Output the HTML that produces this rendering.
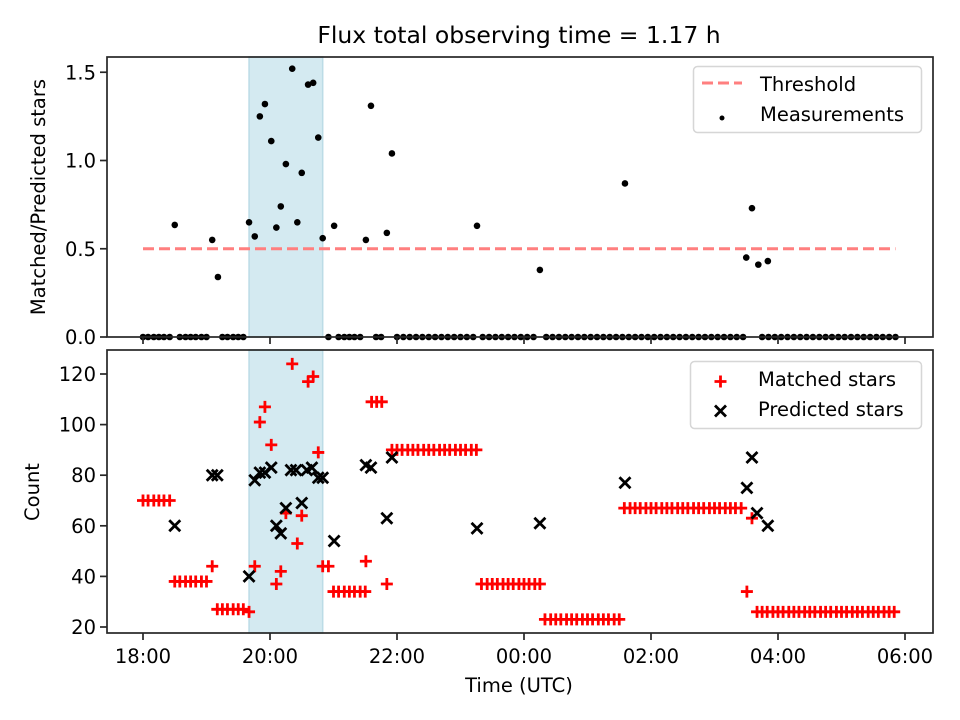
<!DOCTYPE html>
<html><head><meta charset="utf-8"><style>
body{margin:0;background:#fff;}
svg{display:block;font-family:"DejaVu Sans","Liberation Sans",sans-serif;}
</style></head><body>
<svg id="chart" width="960" height="720" viewBox="0 0 960 720" xmlns="http://www.w3.org/2000/svg"></svg>
<script>
// hours after 18:00 UTC
const spanStart = 1.67, spanEnd = 2.83;
const threshold = 0.5, thrStart = 0, thrEnd = 11.85;
const measTimes = [0.50,1.09,1.18,1.67,1.76,1.84,1.92,2.02,2.10,2.17,2.25,2.35,2.43,2.50,2.60,2.68,2.76,2.83,3.01,3.51,3.59,3.84,3.92,5.26,6.25,7.59,9.50,9.59,9.69,9.84];
const measVals = [0.635,0.55,0.34,0.65,0.57,1.25,1.32,1.11,0.62,0.74,0.98,1.52,0.65,0.93,1.43,1.44,1.13,0.56,0.63,0.55,1.31,0.59,1.04,0.63,0.38,0.87,0.45,0.73,0.41,0.43];
const zeroTimes = [0,0.08,0.17,0.25,0.33,0.42,0.58,0.67,0.75,0.83,0.92,1.0,1.25,1.33,1.42,1.5,1.58,2.92,3.08,3.17,3.25,3.33,3.42,3.67,3.75,4.0,4.1,4.2,4.3,4.4,4.5,4.6,4.7,4.8,4.9,5.0,5.1,5.2,5.35,5.45,5.55,5.65,5.75,5.85,5.95,6.05,6.15,6.35,6.45,6.55,6.65,6.75,6.85,6.95,7.05,7.15,7.25,7.35,7.45,7.55,7.65,7.75,7.85,7.95,8.05,8.15,8.25,8.35,8.45,8.55,8.65,8.75,8.85,8.95,9.05,9.15,9.25,9.35,9.45,9.75,9.85,9.95,10.05,10.15,10.25,10.35,10.45,10.55,10.65,10.75,10.85,10.95,11.05,11.15,11.25,11.35,11.45,11.55,11.65,11.75,11.85];
const matchedTimes = [0,0.08,0.17,0.25,0.33,0.42, 0.5,0.58,0.67,0.75,0.83,0.92,1.0, 1.09, 1.17,1.25,1.33,1.42,1.5,1.58,1.67,
 1.76,1.84,1.92,2.02,2.10,2.17,2.25,2.35,2.43,2.50,2.60,2.68,2.76,2.83,2.92,
 3.0,3.08,3.17,3.25,3.33,3.42,3.5, 3.51, 3.6,3.68,3.76, 3.84,
 3.92,4.0,4.08,4.17,4.25,4.33,4.42,4.5,4.58,4.67,4.75,4.83,4.92,5.0,5.08,5.17,5.25,
 5.33,5.42,5.5,5.58,5.67,5.75,5.83,5.92,6.0,6.08,6.17,6.25,
 6.33,6.42,6.5,6.58,6.67,6.75,6.83,6.92,7.0,7.08,7.17,7.25,7.33,7.42,7.5,
 7.58,7.67,7.75,7.83,7.92,8.0,8.08,8.17,8.25,8.33,8.42,8.5,8.58,8.67,8.75,8.83,8.92,9.0,9.08,9.17,9.25,9.33,9.42,
 9.51,9.59,
 9.67,9.75,9.83,9.92,10.0,10.08,10.17,10.25,10.33,10.42,10.5,10.58,10.67,10.75,10.83,10.92,11.0,11.08,11.17,11.25,11.33,11.42,11.5,11.58,11.67,11.75,11.83];
const matchedVals = [70,70,70,70,70,70, 38,38,38,38,38,38,38, 44, 27,27,27,27,27,27,26,
 44,101,107,92,37,42,65,124,53,64,117,119,89,44,44,
 34,34,34,34,34,34,34, 46, 109,109,109, 37,
 90,90,90,90,90,90,90,90,90,90,90,90,90,90,90,90,90,
 37,37,37,37,37,37,37,37,37,37,37,37,
 23,23,23,23,23,23,23,23,23,23,23,23,23,23,23,
 67,67,67,67,67,67,67,67,67,67,67,67,67,67,67,67,67,67,67,67,67,67,67,
 34,63,
 26,26,26,26,26,26,26,26,26,26,26,26,26,26,26,26,26,26,26,26,26,26,26,26,26,26,26];
const predTimes = [0.50,1.09,1.17,1.67,1.76,1.84,1.92,2.02,2.10,2.17,2.25,2.33,2.41,2.50,2.58,2.66,2.76,2.83,3.01,3.51,3.59,3.84,3.92,5.26,6.25,7.59,9.51,9.59,9.67,9.84];
const predVals = [60,80,80,40,78,81,81,83,60,57,67,82,82,69,82,83,79,79,54,84,83,63,87,59,61,77,75,87,65,60];
const xTickLabels = ["18:00","20:00","22:00","00:00","02:00","04:00","06:00"];
const xTickHours = [0,2,4,6,8,10,12];
const topTicks = [0,0.5,1.0,1.5];
const botTicks = [20,40,60,80,100,120];

const svg = document.getElementById('chart');
const NS = 'http://www.w3.org/2000/svg';
function mk(tag, attrs, parent){const e=document.createElementNS(NS,tag);for(const k in attrs)e.setAttribute(k,attrs[k]);(parent||svg).appendChild(e);return e;}
const L=107,R=933;
const X = h => 143 + h*63.5;
const T={top:57,bot:337}, B={top:350,bot:633};
const Yt = v => 337 - v*176.5;
const Yb = v => 627 - (v-20)*2.53;

for (const [p,name] of [[T,'top'],[B,'bottom']]) {
  const r = mk('rect',{x:X(spanStart),y:p.top,width:X(spanEnd)-X(spanStart),height:p.bot-p.top,fill:'#d4eaf1',stroke:'#bcdce6','stroke-width':1.5});
  
  
}
const th = mk('line',{x1:X(thrStart),x2:X(thrEnd),y1:Yt(threshold),y2:Yt(threshold),stroke:'#ff7f7f','stroke-width':3,'stroke-dasharray':'11,5'});


const allT = measTimes.concat(zeroTimes), allV = measVals.concat(zeroTimes.map(()=>0));
for (let i=0;i<allT.length;i++){
  const c = mk('circle',{cx:X(allT[i]),cy:Yt(allV[i]),r:3.3,fill:'#000'});
  
  
}
for (let i=0;i<matchedTimes.length;i++){
  const x=X(matchedTimes[i]), y=Yb(matchedVals[i]);
  const g = mk('path',{d:`M${x-6},${y}H${x+6}M${x},${y-6}V${y+6}`,stroke:'#ff0000','stroke-width':2.8});
  
  
}
for (let i=0;i<predTimes.length;i++){
  const x=X(predTimes[i]), y=Yb(predVals[i]);
  const g = mk('path',{d:`M${x-5.5},${y-5.5}L${x+5.5},${y+5.5}M${x-5.5},${y+5.5}L${x+5.5},${y-5.5}`,stroke:'#000','stroke-width':2.8});
  
  
}
for (const [p,name] of [[T,'top'],[B,'bottom']]) {
  const f = mk('rect',{x:L,y:p.top,width:R-L,height:p.bot-p.top,fill:'none',stroke:'#262626','stroke-width':1.7});
  
  
  for (const h of xTickHours){
    const t = mk('line',{x1:X(h),x2:X(h),y1:p.bot,y2:p.bot+7,stroke:'#262626','stroke-width':1.7});
    
    
  }
}
xTickHours.forEach((h,i)=>{
  const t = mk('text',{x:X(h),y:663,'font-size':19.5,'text-anchor':'middle'}); t.textContent=xTickLabels[i];
  
  
});
topTicks.forEach(v=>{
  mk('line',{x1:L-7,x2:L,y1:Yt(v),y2:Yt(v),stroke:'#262626','stroke-width':1.7});
  const t = mk('text',{x:L-11,y:Yt(v)+7,'font-size':19.5,'text-anchor':'end'}); t.textContent=v.toFixed(1);
  
  
});
botTicks.forEach(v=>{
  mk('line',{x1:L-7,x2:L,y1:Yb(v),y2:Yb(v),stroke:'#262626','stroke-width':1.7});
  const t = mk('text',{x:L-11,y:Yb(v)+7,'font-size':19.5,'text-anchor':'end'}); t.textContent=v;
  
  
});
</script>
<div style="position:absolute;left:0;top:0;width:960px;height:720px;pointer-events:none">
<svg width="960" height="720">
  <text x="519" y="43" font-size="23.5" text-anchor="middle">Flux total observing time = 1.17 h</text>
  <text transform="translate(45,197) rotate(-90)" font-size="19.5" text-anchor="middle">Matched/Predicted stars</text>
  <text transform="translate(39,492) rotate(-90)" font-size="19.5" text-anchor="middle">Count</text>
  <text x="519" y="692" font-size="19.5" text-anchor="middle">Time (UTC)</text>
  <g>
    <rect x="693.5" y="66.5" width="228" height="66" rx="4" fill="#fff" fill-opacity="0.8" stroke="#d6d6d6" stroke-width="1.5"/>
    <line x1="702" x2="742" y1="83" y2="83" stroke="#ff7f7f" stroke-width="3" stroke-dasharray="11,5"/>
    <text x="760" y="91" font-size="19.5">Threshold</text>
    <circle cx="722" cy="118" r="2.5" fill="#000"/>
    <text x="760" y="121" font-size="19.5">Measurements</text>
  </g>
  <g>
    <rect x="690.5" y="361.5" width="231" height="67" rx="4" fill="#fff" fill-opacity="0.8" stroke="#d6d6d6" stroke-width="1.5"/>
    <path d="M714.5,381.5H726.5M720.5,375.5V387.5" stroke="#f00" stroke-width="2.8"/>
    <text x="758" y="386" font-size="19.5">Matched stars</text>
    <path d="M715,405.5L726,416.5M715,416.5L726,405.5" stroke="#000" stroke-width="2.8"/>
    <text x="758" y="416" font-size="19.5">Predicted stars</text>
  </g>
</svg>
</div>
</body></html>
